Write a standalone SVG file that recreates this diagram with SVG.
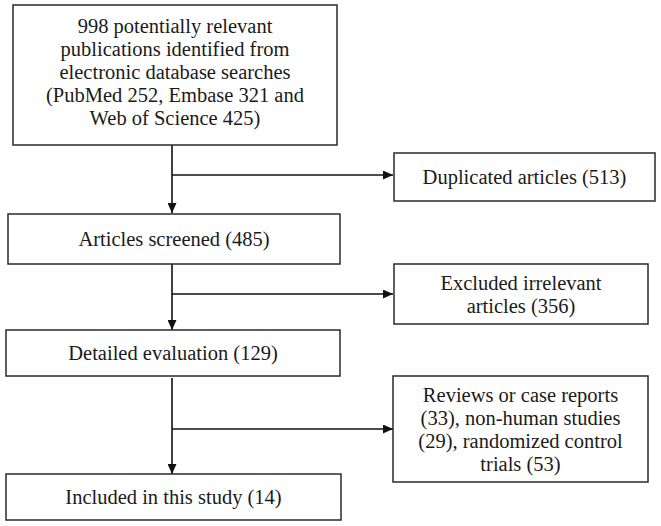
<svg xmlns="http://www.w3.org/2000/svg" width="661" height="526" viewBox="0 0 661 526">
<style>
.box{fill:#fff;stroke:#2a2a2a;stroke-width:1.5}
.t{font-family:"Liberation Serif","Times New Roman",serif;font-size:20.5px;fill:#1a1a1a;text-anchor:middle}
.c{stroke:#111;stroke-width:1.6;fill:none}
</style>
<defs>
<marker id="ah" markerWidth="10" markerHeight="9" refX="10" refY="4.5" orient="auto" markerUnits="userSpaceOnUse">
<path d="M0,0 L10,4.5 L0,9 Z" fill="#111"/>
</marker>
</defs>
<rect width="661" height="526" fill="#fff"/>
<g id="connectors">
<path class="c" d="M172,145 V213" marker-end="url(#ah)"/>
<path class="c" d="M172,175 H393" marker-end="url(#ah)"/>
<path class="c" d="M172,264 V330" marker-end="url(#ah)"/>
<path class="c" d="M172,294 H393" marker-end="url(#ah)"/>
<path class="c" d="M172,378 V474" marker-end="url(#ah)"/>
<path class="c" d="M172,429 H393" marker-end="url(#ah)"/>
</g>
<g id="n1">
<rect class="box" x="13" y="5" width="324" height="140"/>
<text class="t" x="175" y="33">998 potentially relevant</text>
<text class="t" x="175" y="56">publications identified from</text>
<text class="t" x="175" y="79">electronic database searches</text>
<text class="t" x="175" y="102">(PubMed 252, Embase 321 and</text>
<text class="t" x="175" y="125">Web of Science 425)</text>
</g>
<g id="n2">
<rect class="box" x="394" y="153" width="261" height="48"/>
<text class="t" x="524.5" y="184">Duplicated articles (513)</text>
</g>
<g id="n3">
<rect class="box" x="8" y="214" width="332" height="50"/>
<text class="t" x="174" y="246">Articles screened (485)</text>
</g>
<g id="n4">
<rect class="box" x="394" y="264" width="254" height="60"/>
<text class="t" x="521" y="290">Excluded irrelevant</text>
<text class="t" x="521" y="313">articles (356)</text>
</g>
<g id="n5">
<rect class="box" x="6" y="330" width="334" height="46"/>
<text class="t" x="173" y="360">Detailed evaluation (129)</text>
</g>
<g id="n6">
<rect class="box" x="393" y="376" width="255" height="106"/>
<text class="t" x="520.5" y="402">Reviews or case reports</text>
<text class="t" x="520.5" y="425">(33), non-human studies</text>
<text class="t" x="520.5" y="448">(29), randomized control</text>
<text class="t" x="520.5" y="471">trials (53)</text>
</g>
<g id="n7">
<rect class="box" x="6" y="474" width="335" height="46"/>
<text class="t" x="173.5" y="504">Included in this study (14)</text>
</g>
</svg>
